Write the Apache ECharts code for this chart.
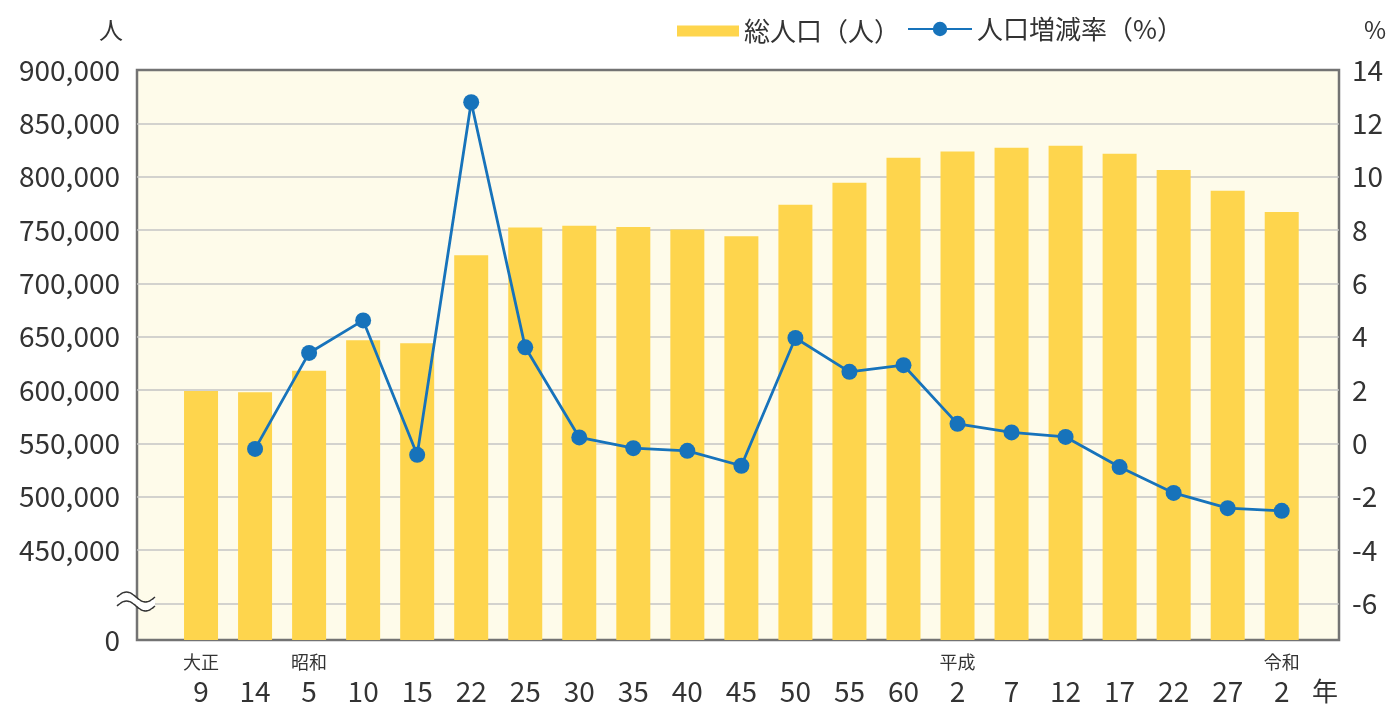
<!DOCTYPE html>
<html>
<head>
<meta charset="utf-8">
<script src="https://cdn.jsdelivr.net/npm/echarts@6/dist/echarts.min.js"></script>
<style>
  html, body { margin: 0; padding: 0; background: #fff; }
  #main { width: 1387px; height: 704px; }
</style>
</head>
<body>
<div id="main"></div>
<script>
// 年次ラベル（元号＋年）
var eras = ['大正', '', '昭和', '', '', '', '', '', '', '', '', '', '', '', '平成', '', '', '', '', '', '令和'];
var years = ['9', '14', '5', '10', '15', '22', '25', '30', '35', '40', '45', '50', '55', '60', '2', '7', '12', '17', '22', '27', '2'];

// 総人口（人）
var population = [599155, 597899, 618144, 646659, 643904, 726264, 752374, 754055, 752696, 750557, 744230,
  773599, 794354, 817633, 823585, 826996, 828944, 821592, 806314, 786740, 766863];
// 人口増減率（%）
var rate = [null, -0.21, 3.39, 4.61, -0.43, 12.79, 3.60, 0.22, -0.18, -0.28, -0.84,
  3.95, 2.68, 2.93, 0.73, 0.41, 0.24, -0.89, -1.86, -2.43, -2.53];

// 左軸の目盛り（0 は省略記号の下）
var popTicks = [450000, 500000, 550000, 600000, 650000, 700000, 750000, 800000, 850000, 900000];
var rateTicks = [-6, -4, -2, 0, 2, 4, 6, 8, 10, 12, 14];

var POP_BOTTOM = 365625;   // 軸下端（表示上は 0）
var POP_GRID = [400000].concat(popTicks.slice(0, -1));

var font = '"Noto Sans CJK JP", "Noto Sans", sans-serif';
var txt = '#333333';

var chart = echarts.init(document.getElementById('main'));

var idx = years.map(function (y, i) { return i; });

// 省略記号（波線）
function wave(base) {
  var pts = [];
  for (var k = 0; k <= 24; k++) {
    var t = k / 24;
    pts.push([117 + 38 * t, base - 5 * Math.sin(2 * Math.PI * t)]);
  }
  return pts;
}
var waveTop = wave(597);
var waveBot = wave(606);

var unitStyle = { fontSize: 24, fontWeight: 'normal', color: txt, fontFamily: font };

var option = {
  animation: false,
  textStyle: { fontFamily: font, color: txt },
  title: [
    { text: '人', left: 94, top: 13, textStyle: unitStyle },
    { text: '%', left: 1359, top: 13, textStyle: unitStyle },
    { text: '年', left: 1307, top: 673, textStyle: { fontSize: 26, fontWeight: 'normal', color: txt, fontFamily: font } }
  ],
  legend: [
    {
      data: [{ name: '総人口（人）', icon: 'rect' }],
      left: 672, top: 13,
      itemWidth: 62, itemHeight: 11,
      textStyle: { fontSize: 26, color: txt, fontFamily: font }
    },
    {
      data: ['人口増減率（%）'],
      left: 902, top: 11,
      itemWidth: 64, itemHeight: 18,
      textStyle: { fontSize: 26, color: txt, fontFamily: font }
    }
  ],
  grid: {
    left: 137, right: 48, top: 70, bottom: 64,
    show: true,
    backgroundColor: '#fefbea',
    borderColor: '#737373',
    borderWidth: 2.5,
    containLabel: false,
    outerBoundsMode: 'none'
  },
  xAxis: {
    type: 'value',
    min: -1.185,
    max: 21.06,
    axisLine: { show: false },
    axisTick: { show: false },
    splitLine: { show: false },
    axisLabel: {
      customValues: idx,
      margin: 9,
      formatter: function (v) {
        var i = Math.round(v);
        return '{era|' + (eras[i] || '　') + '}\n{num|' + years[i] + '}';
      },
      rich: {
        era: { fontSize: 18, lineHeight: 26, color: txt, fontFamily: font, align: 'center' },
        num: { fontSize: 28, lineHeight: 32, color: txt, fontFamily: font, align: 'center' }
      }
    }
  },
  yAxis: [
    {
      type: 'value',
      min: POP_BOTTOM,
      max: 900000,
      axisLine: { show: false },
      axisTick: { show: false, customValues: POP_GRID },
      splitLine: { show: true, lineStyle: { color: '#c4c4c4', width: 1.5 } },
      axisLabel: {
        customValues: [POP_BOTTOM].concat(popTicks),
        margin: 17,
        fontSize: 28,
        color: txt,
        fontFamily: font,
        formatter: function (v) {
          if (v === POP_BOTTOM) return '0';
          return v.toLocaleString('en-US');
        }
      }
    },
    {
      type: 'value',
      min: -7.375,
      max: 14,
      axisLine: { show: false },
      axisTick: { show: false, customValues: rateTicks },
      splitLine: { show: false },
      axisLabel: {
        customValues: rateTicks,
        margin: 13,
        fontSize: 28,
        color: txt,
        fontFamily: font
      }
    }
  ],
  series: [
    {
      name: '総人口（人）',
      type: 'bar',
      barWidth: 34,
      clip: true,
      itemStyle: { color: '#fed54d' },
      data: population.map(function (v, i) { return [i, v]; })
    },
    {
      name: '人口増減率（%）',
      type: 'line',
      yAxisIndex: 1,
      symbol: 'circle',
      symbolSize: 16,
      lineStyle: { color: '#1773bb', width: 2.8 },
      itemStyle: { color: '#1773bb' },
      data: rate.map(function (v, i) { return [i, v]; }).filter(function (d) { return d[1] !== null; })
    }
  ],
  graphic: [
    {
      type: 'polygon',
      z: 100,
      shape: { points: waveTop.concat(waveBot.slice().reverse()) },
      style: { fill: '#ffffff', stroke: null }
    },
    {
      type: 'polyline',
      z: 101,
      shape: { points: waveTop, smooth: 0.3 },
      style: { fill: null, stroke: '#333333', lineWidth: 1.5 }
    },
    {
      type: 'polyline',
      z: 101,
      shape: { points: waveBot, smooth: 0.3 },
      style: { fill: null, stroke: '#333333', lineWidth: 1.5 }
    }
  ]
};

chart.setOption(option);
</script>
</body>
</html>
